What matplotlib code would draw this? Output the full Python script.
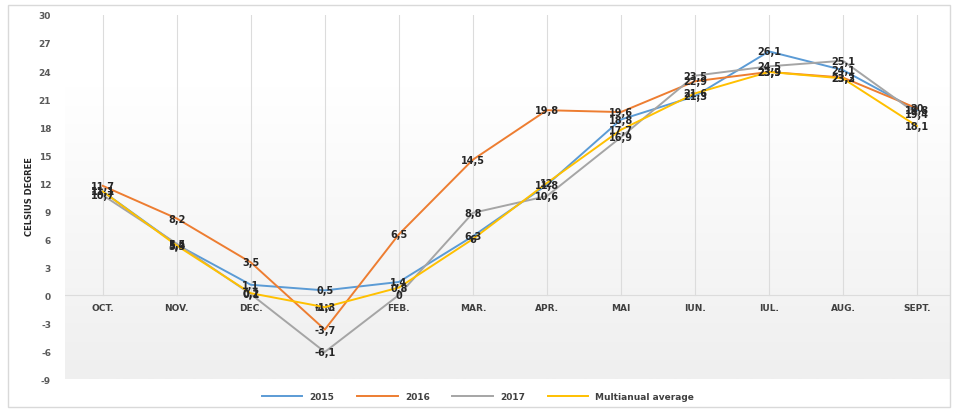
import numpy as np
import matplotlib
matplotlib.use("Agg")
import matplotlib.pyplot as plt
from matplotlib.patches import Rectangle

plt.rcParams["axes.unicode_minus"] = False

months = ["OCT.", "NOV.", "DEC.", "IAN.", "FEB.", "MAR.", "APR.", "MAI",
          "IUN.", "IUL.", "AUG.", "SEPT."]
t2015 = [11.1, 5.4, 1.1, 0.5, 1.4, 6.3, 11.8, 18.8, 21.3, 26.1, 24.1, 19.8]
t2016 = [11.7, 8.2, 3.5, -3.7, 6.5, 14.5, 19.8, 19.6, 22.9, 23.9, 23.3, 20]
t2017 = [10.7, 5.5, 0.1, -6.1, 0, 8.8, 10.6, 16.9, 23.5, 24.5, 25.1, 19.4]
t_avg = [11.1, 5.3, 0.2, -1.3, 0.8, 6, 12, 17.7, 21.6, 23.9, 23.2, 18.1]

series = [
    ("2015", t2015, "#5B9BD5"),
    ("2016", t2016, "#ED7D31"),
    ("2017", t2017, "#A5A5A5"),
    ("Multianual average", t_avg, "#FFC000"),
]


def fmt(v):
    s = ("%.1f" % v).rstrip("0").rstrip(".")
    return s.replace(".", ",")


fig = plt.figure(figsize=(9.56, 4.10), dpi=100)
fig.patches.append(Rectangle((0.008, 0.005), 0.986, 0.98, transform=fig.transFigure,
                             fill=False, edgecolor="#d9d9d9", lw=1))
ax = fig.add_axes([0.068, 0.073, 0.926, 0.888])

x = np.arange(len(months))
ax.set_xlim(-0.51, 11.45)
ax.set_ylim(-9, 30)

# soft gradient background, white in the upper part
grad = np.clip(np.linspace(1.25, 0, 256), 0, 1).reshape(-1, 1)
cmap = matplotlib.colors.LinearSegmentedColormap.from_list("bg", ["#efefef", "#ffffff"])
ax.imshow(grad, aspect="auto", cmap=cmap, origin="upper",
          extent=(-0.51, 11.45, -9, 30), zorder=0)

for xi in x:
    ax.plot([xi, xi], [0, 30], color="#dcdcdc", lw=0.8, zorder=1)
ax.axhline(0, color="#dcdcdc", lw=0.8, zorder=1)

for name, vals, col in series:
    ax.plot(x, vals, color=col, lw=1.4, label=name, zorder=3)

for name, vals, col in series:
    for xi, v in zip(x, vals):
        ax.text(xi, v, fmt(v), ha="center", va="center", fontsize=7,
                fontweight="bold", color="#262626", zorder=4)

for xi, m in zip(x, months):
    ax.text(xi, -0.8, m, ha="center", va="top", fontsize=6.5,
            fontweight="bold", color="#404040", zorder=2)

ax.set_xticks([])
ax.set_yticks(np.arange(-9, 31, 3))
ax.tick_params(axis="y", length=0, pad=10, labelsize=6.5, labelcolor="#595959")
for lab in ax.get_yticklabels():
    lab.set_fontweight("bold")
for sp in ax.spines.values():
    sp.set_visible(False)

fig.text(0.031, 0.52, "CELSIUS DEGREE", rotation=90, ha="center", va="center",
         fontsize=6, fontweight="bold", color="#262626")

fig.legend(loc="center", bbox_to_anchor=(0.5, 0.03), ncol=4, frameon=False,
           prop={"size": 6.5, "weight": "bold"}, handlelength=4.5,
           columnspacing=2.5, labelcolor="#404040")

fig.savefig("out.png", dpi=100)
